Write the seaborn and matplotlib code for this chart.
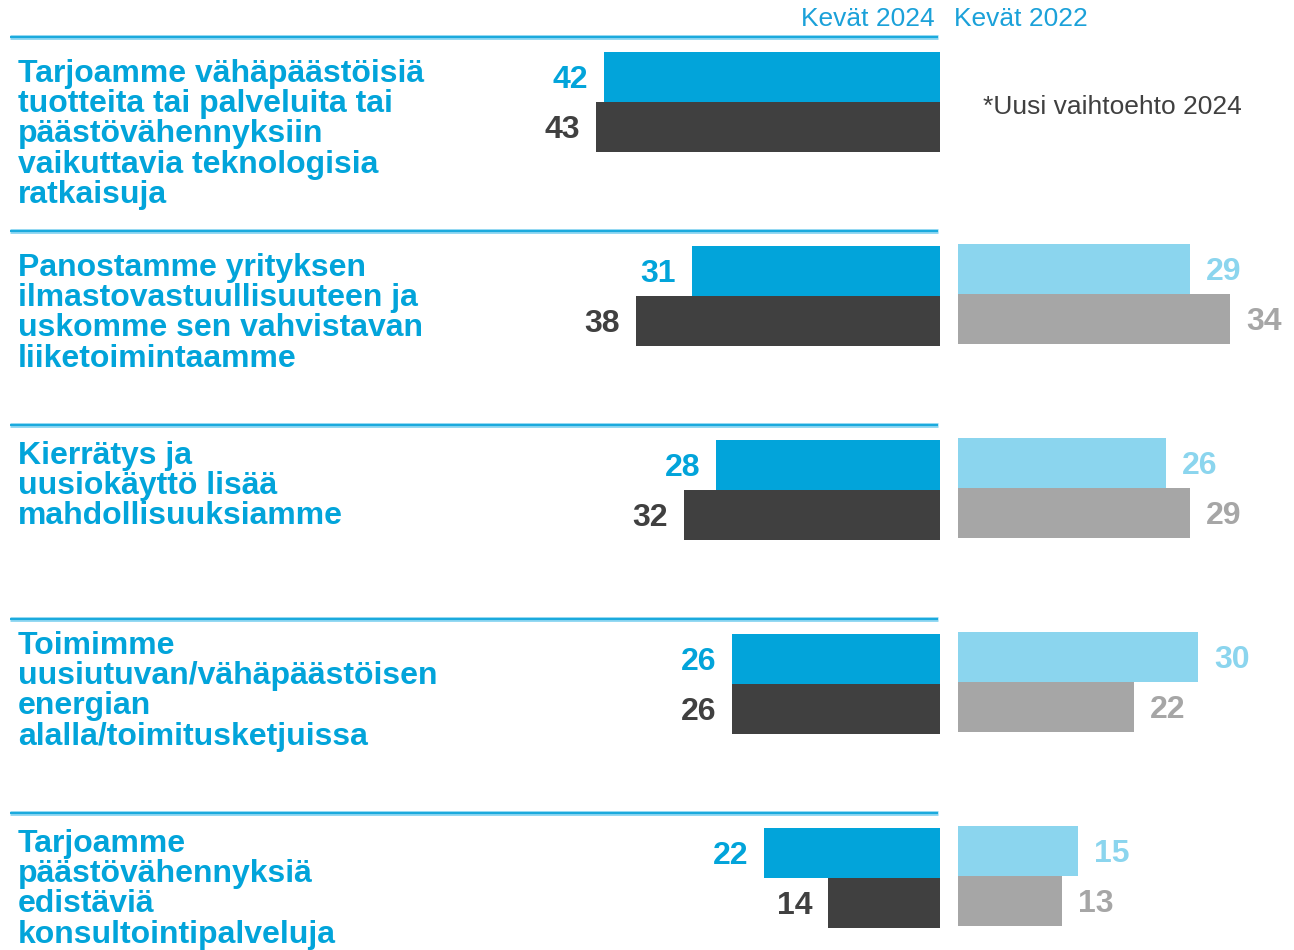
import numpy as np
import pandas as pd
import matplotlib
matplotlib.use('Agg')
import matplotlib.pyplot as plt
import matplotlib.transforms as mtransforms
import seaborn as sns

labels = [
    'Tarjoamme vähäpäästöisiä\ntuotteita tai palveluita tai\npäästövähennyksiin\nvaikuttavia teknologisia\nratkaisuja',
    'Panostamme yrityksen\nilmastovastuullisuuteen ja\nuskomme sen vahvistavan\nliiketoimintaamme',
    'Kierrätys ja\nuusiokäyttö lisää\nmahdollisuuksiamme',
    'Toimimme\nuusiutuvan/vähäpäästöisen\nenergian\nalalla/toimitusketjuissa',
    'Tarjoamme\npäästövähennyksiä\nedistäviä\nkonsultointipalveluja',
]
series_2024 = ['Kevät 2024 a', 'Kevät 2024 b']
series_2022 = ['Kevät 2022 a', 'Kevät 2022 b']
top_2024 = [42, 31, 28, 26, 22]
bottom_2024 = [43, 38, 32, 26, 14]
top_2022 = [np.nan, 29, 26, 30, 15]
bottom_2022 = [np.nan, 34, 29, 22, 13]

# where each label block starts, in pixels above the group centre
label_top_px = [43, 43, 49, 53, 49]

blue = '#02a4da'
dark = '#404040'
light_blue = '#8bd5ee'
gray = '#a6a6a6'

cat = list(range(len(labels)))
df24 = pd.DataFrame({'cat': cat * 2, 'value': top_2024 + bottom_2024,
                     'series': [series_2024[0]] * 5 + [series_2024[1]] * 5})
df22 = pd.DataFrame({'cat': cat * 2, 'value': top_2022 + bottom_2022,
                     'series': [series_2022[0]] * 5 + [series_2022[1]] * 5}).dropna()

sns.set_style('white')
plt.rcParams['font.family'] = ['Liberation Sans', 'DejaVu Sans']

W, H = 1294, 950
step = 194
fig = plt.figure(figsize=(W / 100, H / 100), dpi=100)
ax1 = fig.add_axes([500 / W, 0, 440 / W, 1])
ax2 = fig.add_axes([958 / W, 2 / H, 336 / W, 1])

sns.barplot(data=df24, y='cat', x='value', hue='series', order=cat, hue_order=series_2024,
            orient='h', palette=[blue, dark], saturation=1, width=0.515, linewidth=0,
            legend=False, ax=ax1)
sns.barplot(data=df22, y='cat', x='value', hue='series', order=cat, hue_order=series_2022,
            orient='h', palette=[light_blue, gray], saturation=1, width=0.515, linewidth=0,
            legend=False, ax=ax2)

ylim = ((H - 102) / step, -102 / step)
ax1.set_xlim(55, 0)
ax2.set_xlim(0, 42)
for ax in (ax1, ax2):
    ax.set_ylim(*ylim)
    ax.axis('off')


def label_bars(ax, colors, ha, sign):
    for cont, col in zip(ax.containers, colors):
        for p in cont.patches:
            w = p.get_width()
            if np.isnan(w):
                continue
            ax.annotate(f'{w:.0f}', xy=(w, p.get_y() + p.get_height() / 2),
                        xytext=(sign * 11.5, -2.5), textcoords='offset points',
                        ha=ha, va='center', color=col, fontsize=23, fontweight='bold')


label_bars(ax1, [blue, dark], 'right', -1)
label_bars(ax2, [light_blue, gray], 'left', 1)

# category labels and separator lines
blend = mtransforms.blended_transform_factory(fig.transFigure, ax1.transData)
for i, lab in enumerate(labels):
    ax1.text(18 / W, i - label_top_px[i] / step, lab, transform=blend, ha='left', va='top',
             fontsize=23, fontweight='bold', color=blue, linespacing=1.01)
    ax1.plot([10 / W, 938 / W], [i - 0.335, i - 0.335], transform=blend, clip_on=False,
             color='#86d3f0', lw=3.4, solid_capstyle='butt')
    ax1.plot([10 / W, 938 / W], [i - 0.335, i - 0.335], transform=blend, clip_on=False,
             color='#10a6dc', lw=1.3, solid_capstyle='butt')

fig.text(935 / W, 1 - 19 / H, 'Kevät 2024', ha='right', va='center', fontsize=19, color='#1ba1d9')
fig.text(954 / W, 1 - 19 / H, 'Kevät 2022', ha='left', va='center', fontsize=19, color='#1ba1d9')
fig.text(983 / W, 1 - 107 / H, '*Uusi vaihtoehto 2024', ha='left', va='center', fontsize=19, color=dark)

fig.savefig('out.png', dpi=100)
